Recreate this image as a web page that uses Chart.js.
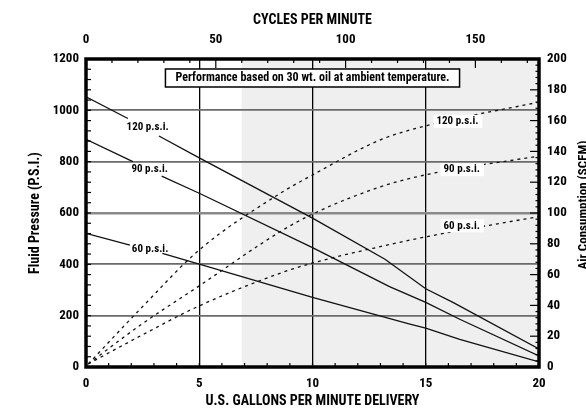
<!DOCTYPE html>
<html><head><meta charset="utf-8">
<script src="https://cdn.jsdelivr.net/npm/chart.js@4.4.0/dist/chart.umd.min.js"></script>
<style>html,body{margin:0;padding:0;background:#fff;}</style>
</head><body>
<canvas id="c" width="586" height="410"></canvas>
<script>
// ---- axis ticks ----
const gpmTicks = [0, 5, 10, 15, 20];
const cpmTicks = [0, 50, 100, 150];
const psiTicks = [0, 200, 400, 600, 800, 1000, 1200];
const scfmTicks = [0, 20, 40, 60, 80, 100, 120, 140, 160, 180, 200];
const cpmAtMaxGpm = 174.5;      // cycles per minute at 20 gpm
const shadeFromCpm = 60;         // shaded region starts at 60 cycles/min

const seriesNames = ['120 p.s.i.', '90 p.s.i.', '60 p.s.i.'];

// ---- fluid pressure (solid lines), gap where the label is printed ----
const gpmP120 = [0, 1.85, 2.5, 3.22, 5, 10, 13.2, 15, 16.2, 20];
const psiP120 = [1053, 968, null, 900, 815, 580, 420, 305, 252, 70];
const gpmP90  = [0, 2.07, 2.7, 3.34, 5, 10, 13.4, 15, 16.5, 20];
const psiP90  = [887, 800, null, 744, 677, 465, 313, 252, 186, 43];
const gpmP60  = [0, 1.94, 2.6, 3.37, 5, 10, 14.3, 15, 16.5, 20];
const psiP60  = [521, 475, null, 443, 401, 271, 167, 151, 108, 20];

// ---- air consumption (dashed lines) ----
const gpmAir   = [0.1, 2.42, 5, 8.59, 10, 13, 15, 20];
const scfmA120 = [2, 38, 76, 112.9, 124.7, 147.5, 156.6, 172];
const scfmA90  = [2, 27.4, 52.7, 88, 99.3, 117, 124.8, 137];
const scfmA60  = [2, 20.3, 39.7, 61, 67.5, 78.2, 84.5, 97.7];

const note = 'Performance based on 30 wt. oil at ambient temperature.';

// ---- pick a condensed sans; otherwise emulate one by narrowing Liberation Sans ----
function fontAvailable(name) {
  const c = document.createElement('canvas').getContext('2d');
  const s = 'AbcWMil1200 p.s.i. CYCLES';
  for (const fb of ['monospace', 'serif']) {
    c.font = 'bold 40px ' + fb; const a = c.measureText(s).width;
    c.font = 'bold 40px "' + name + '", ' + fb; const b = c.measureText(s).width;
    if (Math.abs(a - b) > 0.01) return true;
  }
  return false;
}
let FONT = "'Liberation Sans', Arial, sans-serif", SX = 0.82;
for (const f of ['Liberation Sans Narrow', 'Arial Narrow', 'Roboto Condensed']) {
  if (fontAvailable(f)) { FONT = "'" + f + "', sans-serif"; SX = 1; break; }
}

const canvas = document.getElementById('c');
const ctx2d = canvas.getContext('2d');
if (SX !== 1) {
  const origFill = ctx2d.fillText;
  ctx2d.fillText = function (t, x, y, mw) {
    this.save();
    this.translate(x, y);
    this.scale(SX, 1);
    if (mw === undefined || mw === null) origFill.call(this, t, 0, 0);
    else origFill.call(this, t, 0, 0, mw / SX);
    this.restore();
  };
  const origMeasure = ctx2d.measureText;
  ctx2d.measureText = function (t) {
    const m = origMeasure.call(this, t);
    return {width: m.width * SX, actualBoundingBoxAscent: m.actualBoundingBoxAscent,
      actualBoundingBoxDescent: m.actualBoundingBoxDescent,
      actualBoundingBoxLeft: m.actualBoundingBoxLeft * SX, actualBoundingBoxRight: m.actualBoundingBoxRight * SX};
  };
}

const pts = (xs, ys) => xs.map((x, i) => ({x: x, y: ys[i]}));

function solid(xs, ys) {
  return {data: pts(xs, ys), xAxisID: 'x', yAxisID: 'y', borderColor: '#111', borderWidth: 1.3,
    pointRadius: 0, tension: 0, spanGaps: false, fill: false};
}
function dashed(xs, ys) {
  return {data: pts(xs, ys), xAxisID: 'x', yAxisID: 'y2', borderColor: '#111', borderWidth: 1.3,
    borderDash: [3, 4], pointRadius: 0, cubicInterpolationMode: 'monotone', fill: false};
}

const tickFont = {family: FONT, size: 13, weight: 'bold'};
const titleFont = {family: FONT, size: 14, weight: 'bold'};

function line(ctx, x1, y1, x2, y2) { ctx.beginPath(); ctx.moveTo(x1, y1); ctx.lineTo(x2, y2); ctx.stroke(); }

const decor = {
  id: 'decor',
  beforeDraw(chart) {
    const {ctx, chartArea: a, scales} = chart;
    const xs = scales.xTop.getPixelForValue(shadeFromCpm);
    ctx.save();
    ctx.fillStyle = '#efefef';
    ctx.fillRect(xs, a.top, a.right - xs, a.bottom - a.top);
    ctx.restore();
  },
  afterDatasetsDraw(chart) {
    const {ctx, chartArea: a, scales} = chart;
    const X = scales.x, Y = scales.y, Y2 = scales.y2, XT = scales.xTop;
    ctx.save();
    ctx.strokeStyle = '#000';
    ctx.lineWidth = 1.2;
    for (let v = 0; v <= 1200; v += 40) { const y = Y.getPixelForValue(v); line(ctx, a.left, y, a.left + 5, y); }
    for (let v = 0; v <= 200; v += 4) { const y = Y2.getPixelForValue(v); const L = v % 20 === 0 ? 9 : 3.5; line(ctx, a.right - L, y, a.right, y); }
    for (let v = 0; v <= cpmAtMaxGpm; v += 10) { const x = XT.getPixelForValue(v); const L = v % 50 === 0 ? 9 : 4; line(ctx, x, a.top, x, a.top + L); }
    for (let v = 0; v <= 20; v += 1) { const x = X.getPixelForValue(v); line(ctx, x, a.bottom - 4, x, a.bottom); }

    // frame
    ctx.lineWidth = 3.5;
    ctx.strokeRect(a.left, a.top, a.right - a.left, a.bottom - a.top);

    // pressure labels (left)
    ctx.fillStyle = '#000';
    ctx.font = 'bold 11px ' + FONT;
    ctx.textAlign = 'center';
    ctx.textBaseline = 'middle';
    const leftAnch = [[2.72, 935], [2.81, 771], [2.83, 458]];
    leftAnch.forEach((p, i) => ctx.fillText(seriesNames[i], X.getPixelForValue(p[0]), Y.getPixelForValue(p[1])));

    // air labels (right) with white knockout
    const rightAnch = [[16.4, 159.5], [16.59, 128.1], [16.59, 91.7]];
    rightAnch.forEach((p, i) => {
      const x = X.getPixelForValue(p[0]), y = Y2.getPixelForValue(p[1]);
      const w = ctx.measureText(seriesNames[i]).width;
      ctx.fillStyle = '#fff';
      ctx.fillRect(x - w / 2 - 3, y - 6.5, w + 7, 13);
      ctx.fillStyle = '#000';
      ctx.fillText(seriesNames[i], x, y);
    });

    // note box
    ctx.font = 'bold 12px ' + FONT;
    const nx = X.getPixelForValue(10), ny = Y.getPixelForValue(1126);
    const nw = ctx.measureText(note).width + 20;
    ctx.fillStyle = '#fff';
    ctx.fillRect(nx - nw / 2, ny - 9, nw, 18);
    ctx.lineWidth = 1.5;
    ctx.strokeRect(nx - nw / 2, ny - 9, nw, 18);
    ctx.fillStyle = '#000';
    ctx.fillText(note, nx, ny + 0.5);

    // right axis title (reads bottom-to-top)
    ctx.translate(584, (a.top + a.bottom) / 2 - 8);
    ctx.rotate(-Math.PI / 2);
    ctx.font = 'bold 13px ' + FONT;
    ctx.fillText('Air Consumption (SCFM)', 0, 0);
    ctx.restore();
  }
};

new Chart(canvas, {
  type: 'line',
  data: {datasets: [
    solid(gpmP120, psiP120), solid(gpmP90, psiP90), solid(gpmP60, psiP60),
    dashed(gpmAir, scfmA120), dashed(gpmAir, scfmA90), dashed(gpmAir, scfmA60)
  ]},
  options: {
    responsive: false, animation: false, devicePixelRatio: 1,
    layout: {padding: 0},
    plugins: {legend: {display: false}, tooltip: {enabled: false}},
    scales: {
      x: {
        type: 'linear', position: 'bottom', min: 0, max: 20,
        afterBuildTicks: s => { s.ticks = gpmTicks.map(v => ({value: v})); },
        ticks: {font: tickFont, color: '#000', padding: 9, maxRotation: 0, autoSkip: false, callback: v => String(v)},
        grid: {color: c => (c.tick && c.tick.value > 0 && c.tick.value < 20) ? '#000' : 'rgba(0,0,0,0)', lineWidth: 1.3, drawTicks: false},
        border: {display: false},
        title: {display: true, text: 'U.S. GALLONS PER MINUTE DELIVERY', font: titleFont, color: '#000', padding: {top: 0, bottom: 0}},
        afterFit: s => { s.height = 43; s.paddingLeft = 0; s.paddingRight = 0; }
      },
      xTop: {
        type: 'linear', position: 'top', axis: 'x', min: 0, max: cpmAtMaxGpm,
        afterBuildTicks: s => { s.ticks = cpmTicks.map(v => ({value: v})); },
        ticks: {font: tickFont, color: '#000', padding: 11, maxRotation: 0, autoSkip: false, callback: v => String(v)},
        grid: {display: false, drawTicks: false},
        border: {display: false},
        title: {display: true, text: 'CYCLES PER MINUTE', font: titleFont, color: '#000', padding: {top: 11.6, bottom: 0}},
        afterFit: s => { s.height = 59; s.paddingLeft = 0; s.paddingRight = 0; }
      },
      y: {
        type: 'linear', position: 'left', min: 0, max: 1200,
        afterBuildTicks: s => { s.ticks = psiTicks.map(v => ({value: v})); },
        ticks: {font: tickFont, color: '#000', padding: 7, autoSkip: false, callback: v => String(v)},
        grid: {color: c => (c.tick && c.tick.value === 600) ? '#8a8a8a' : '#6a6a6a',
               lineWidth: c => (c.tick && c.tick.value === 600) ? 2.6 : 1.8, drawTicks: false},
        border: {display: false},
        title: {display: true, text: 'Fluid Pressure (P.S.I.)', font: titleFont, color: '#000', padding: {top: 26.6, bottom: 0}},
        afterFit: s => { s.width = 86; s.paddingTop = 0; s.paddingBottom = 0; }
      },
      y2: {
        type: 'linear', position: 'right', min: 0, max: 200,
        afterBuildTicks: s => { s.ticks = scfmTicks.map(v => ({value: v})); },
        ticks: {font: tickFont, color: '#000', padding: 8, autoSkip: false, callback: v => String(v)},
        grid: {display: false, drawTicks: false},
        border: {display: false},
        afterFit: s => { s.width = 47; s.paddingTop = 0; s.paddingBottom = 0; }
      }
    }
  },
  plugins: [decor]
});
</script>
</body></html>
